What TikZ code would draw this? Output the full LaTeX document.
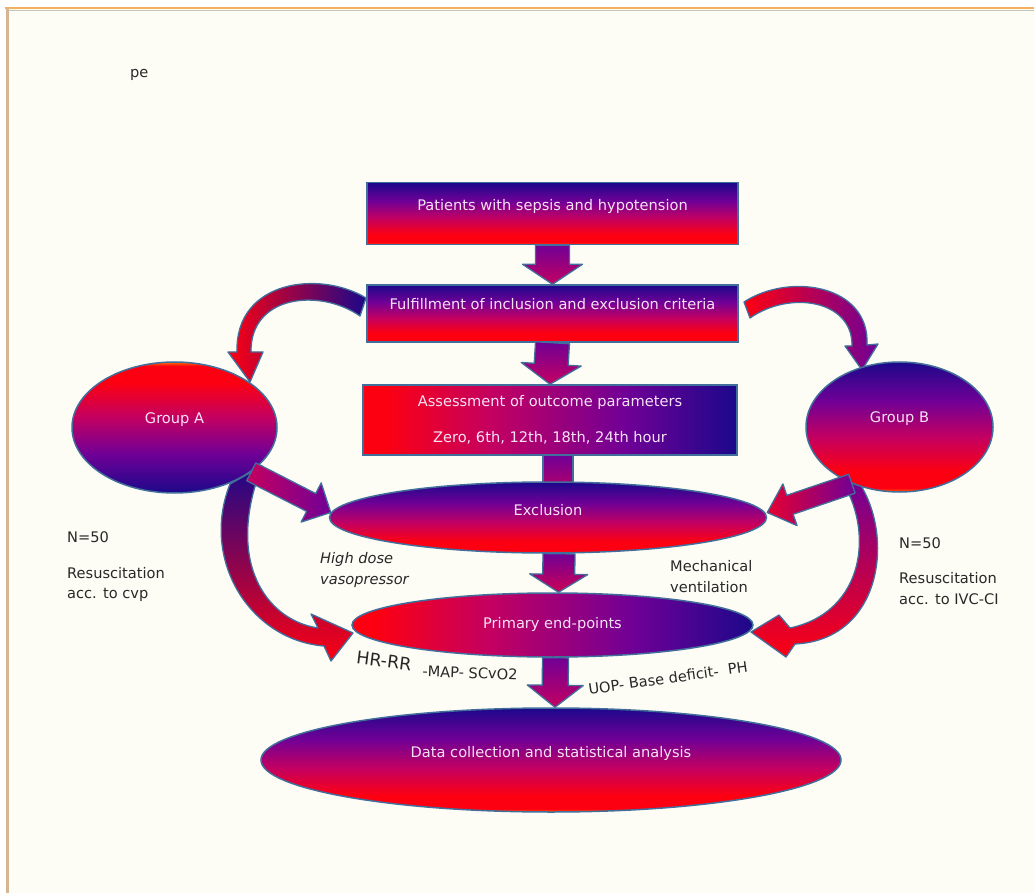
\documentclass[tikz,border=0pt]{standalone}
\usepackage{fontspec}
\setmainfont{DejaVu Sans}
\usetikzlibrary{shapes.geometric,calc}
\definecolor{navyb}{RGB}{28,8,138}
\definecolor{purp}{RGB}{112,0,150}
\definecolor{mag}{RGB}{196,0,96}
\definecolor{redc}{RGB}{252,0,18}
\definecolor{orng}{RGB}{255,112,0}
\definecolor{edge}{RGB}{66,110,155}
\definecolor{txtin}{RGB}{246,226,246}
\definecolor{txtout}{RGB}{40,40,40}
\definecolor{cream}{RGB}{253,253,246}
\definecolor{topline}{RGB}{245,176,96}
\definecolor{greyline}{RGB}{200,196,184}
\definecolor{tanline}{RGB}{214,182,146}
\pgfdeclareverticalshading{pgrad}{100bp}{color(0bp)=(orng); color(25bp)=(orng); color(26.5bp)=(redc); color(33bp)=(redc); color(46bp)=(mag); color(60bp)=(purp); color(75bp)=(navyb); color(100bp)=(navyb)}
\pgfdeclarehorizontalshading{hgrad}{100bp}{color(0bp)=(redc); color(25bp)=(redc); color(28bp)=(redc); color(42bp)=(mag); color(60bp)=(purp); color(75bp)=(navyb); color(100bp)=(navyb)}
\newcommand\fsz{\fontsize{14.6}{17.5}\selectfont}
\newcommand\blockarrow[6]{%
  \coordinate (ba-b) at ($(#2)!#5!(#1)$);
  \path[#6] ($(#1)!#3!90:(#2)$) -- ($(ba-b)!#3!-90:(#1)$) -- ($(ba-b)!#4!-90:(#1)$) -- (#2) -- ($(ba-b)!#4!90:(#1)$) -- ($(ba-b)!#3!90:(#1)$) -- ($(#1)!#3!-90:(#2)$) -- cycle;}
\tikzset{
  shp/.style={draw=edge, line width=1.5pt, shading=pgrad, inner sep=0pt, text=txtin, font=\fsz},
  box/.style={shp, rectangle},
  ell/.style={shp, ellipse},
  lift/.style={text height=11pt, text depth=#1},
  blk/.style={draw=edge, line width=1.3pt, line join=round},
  lbl/.style={text=txtout, font=\fsz, inner sep=0pt, anchor=west}
}
\begin{document}
\begin{tikzpicture}[x=1pt, y=-1pt]
\useasboundingbox (0,0) rectangle (1034,893);
\fill[white] (0,0) rectangle (1034,893);
\fill[cream] (7,9) rectangle (1034,893);
\draw[topline, line width=2pt] (5,8.5) -- (1034,8.5);
\draw[greyline, line width=1pt] (9,10.5) -- (1034,10.5);
\draw[tanline, line width=3pt] (7.5,8) -- (7.5,893);

\node[lbl] (pe) at (130,75) {pe};

% curved arrows behind the nodes
\path[blk, left color=redc, middle color=mag, right color=navyb]
  (366,298) .. controls (320,270) and (235,280) .. (237,352) -- (228,352) -- (250,382)
  -- (263,352) -- (251,352) .. controls (250,295) and (320,288) .. (360,316) -- cycle;
\path[blk, left color=redc, middle color=mag!70!purp, right color=purp]
  (744,302) .. controls (790,272) and (870,285) .. (867,345) -- (878,344) -- (862,370)
  -- (845,346) -- (852,346) .. controls (853,300) and (790,290) .. (750,318) -- cycle;
\path[blk, top color=navyb, middle color=mag, bottom color=redc]
  (230,484) .. controls (200,560) and (250,640) .. (324,646) -- (331,661) -- (353,633)
  -- (311,614) -- (318,628) .. controls (265,620) and (225,560) .. (262,466) -- cycle;
\path[blk, top color=purp, middle color=mag, bottom color=redc]
  (860,484) .. controls (895,540) and (880,640) .. (795,644) -- (786,657) -- (751,632)
  -- (779,615) -- (790,628) .. controls (865,612) and (875,530) .. (840,478) -- cycle;

% boxes
\node[box, lift=17pt, minimum width=371pt, minimum height=62pt] (box1) at (552.5,213.5) {Patients with sepsis and hypotension};
\node[box, lift=18pt, minimum width=371pt, minimum height=57pt] (box2) at (552.5,313.5) {Fulfillment of inclusion and exclusion criteria};
\node[box, shading=hgrad, align=center, minimum width=374pt, minimum height=70pt] (box3) at (550,420) {Assessment of outcome parameters\\[18pt]Zero, 6th, 12th, 18th, 24th hour};

% shaft from box3 into exclusion
\path[blk, top color=purp, bottom color=mag] ($(box3.south)+(-7,0)$) rectangle ($(box3.south)+(23,40)$);

% ellipses
\node[ell, lift=20pt, shading angle=180, minimum width=205pt, minimum height=131pt] (grpA) at (174.5,427.5) {Group A};
\node[ell, lift=20pt, minimum width=187pt, minimum height=130pt] (grpB) at (899.5,427) {Group B};
\node[ell, lift=16pt, minimum width=437pt, minimum height=71pt] (excl) at (548,517.5) {Exclusion};
\node[ell, lift=5pt, shading=hgrad, minimum width=401pt, minimum height=64pt] (prim) at (552.5,625) {Primary end-points};
\node[ell, lift=17pt, minimum width=580pt, minimum height=104pt] (data) at (551,760) {Data collection and statistical analysis};

% straight block arrows
\blockarrow{box1.south}{box2.north}{17pt}{30pt}{20pt}{blk, top color=purp, bottom color=mag}
\blockarrow{box2.south}{box3.north}{17pt}{30pt}{20pt}{blk, top color=purp, bottom color=mag}
\coordinate (e2pT) at ($(excl.south)+(11,0)$);
\coordinate (e2pH) at ($(prim.north)+(6,0)$);
\blockarrow{e2pT}{e2pH}{16pt}{29pt}{18pt}{blk, top color=purp, bottom color=mag!85!redc}
\coordinate (p2dT) at ($(prim.south)+(3,0)$);
\coordinate (p2dH) at ($(data.north)+(4,0)$);
\blockarrow{p2dT}{p2dH}{13pt}{28pt}{22pt}{blk, top color=purp, bottom color=mag}
\coordinate (a2eH) at ($(excl.west)+(2,-5)$);
\blockarrow{grpA.-30}{a2eH}{10pt}{22pt}{22pt}{blk, left color=mag, right color=purp}
\coordinate (b2eH) at ($(excl.east)+(0,-5)$);
\blockarrow{grpB.-130}{b2eH}{10pt}{22pt}{24pt}{blk, left color=redc!60!mag, right color=purp}

% labels
\node[lbl] (nA) at (67,537) {N=50};
\node[lbl] (rA1) at (67,573) {Resuscitation};
\node[lbl] (rA2) at (67,595) {acc. to cvp};
\node[lbl] (nB) at (899,543) {N=50};
\node[lbl] (rB1) at (899,578) {Resuscitation};
\node[lbl] (rB2) at (899,599) {acc. to IVC-CI};
\node[lbl, font=\fsz\itshape] (hd1) at (320,559) {High dose};
\node[lbl, font=\fsz\itshape] (hd2) at (320,582) {vasopressor};
\node[lbl] (mv1) at (670,566) {Mechanical};
\node[lbl] (mv2) at (670,587) {ventilation};
\node[lbl, anchor=center, font=\fontsize{17.5}{20}\selectfont, rotate=-7] (hr) at (384,661) {HR-RR};
\node[lbl, anchor=center, rotate=-2] (map) at (470,673) {-MAP- SCvO2};
\node[lbl, anchor=center, rotate=8] (uop) at (668,678) {UOP- Base deficit-\ \ PH};
\end{tikzpicture}
\end{document}
